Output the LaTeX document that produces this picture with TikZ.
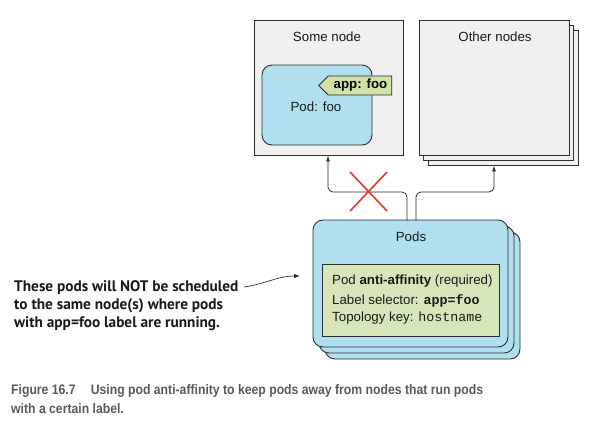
\documentclass[tikz,border=0pt]{standalone}
\usepackage{fontspec}
\setmainfont{Liberation Sans}
\setmonofont{Liberation Mono}
\newfontfamily\annfont{PT Sans}
\newfontfamily\capfont[FakeStretch=0.885]{Liberation Sans}
\usetikzlibrary{arrows.meta,shapes.symbols}
\definecolor{nodegray}{HTML}{F0F0F0}
\definecolor{podblue}{HTML}{B0DFF0}
\definecolor{taggreen}{HTML}{D0E2A8}
\definecolor{boxgreen}{HTML}{D6E6B8}
\definecolor{edgegray}{HTML}{2E2E2E}
\definecolor{xred}{HTML}{E8392C}
\definecolor{capgray}{HTML}{5A5A5A}
\tikzset{
  nodebox/.style={draw=edgegray, line width=0.9pt, fill=nodegray, inner sep=0pt},
  podbox/.style={draw=edgegray, line width=0.9pt, fill=podblue, rounded corners=10pt, inner sep=0pt},
  greenbox/.style={draw=edgegray, line width=0.9pt, fill=boxgreen, inner sep=0pt},
  tagbox/.style={signal, signal to=west, draw=edgegray, line width=0.9pt, fill=taggreen, inner sep=0pt, minimum height=19pt, minimum width=73pt, font=\fontsize{13.3}{15}\selectfont\bfseries},
  lbl/.style={inner sep=0pt, font=\fontsize{13.3}{15}\selectfont, text=black!90},
  conn/.style={draw=edgegray, line width=0.8pt, rounded corners=5pt, -{Latex[length=6pt,width=4pt]}},
  ann/.style={inner sep=0pt, font=\annfont\fontsize{15.3}{18}\selectfont\bfseries, text=black!90, align=left},
  captext/.style={inner sep=0pt, font=\capfont\fontsize{13.8}{19}\selectfont\bfseries, text=capgray, align=left},
}
\begin{document}
\begin{tikzpicture}[x=1pt,y=-1pt]
\useasboundingbox (0,0) rectangle (610,432);
% Some node
\node[nodebox, minimum width=149pt, minimum height=135pt] (some) at (328.5,87.5) {};
\node[lbl] (somelbl) at (327,37) {Some node};
\node[podbox, minimum width=110pt, minimum height=80pt] (podfoo) at (317,105) {};
\node[lbl] (podfoolbl) at (316,107) {Pod: foo};
\node[tagbox] (tag) at (360,85.5) {\hspace{1pt}app: foo};
% Other nodes (stack)
\node[nodebox, minimum width=150pt, minimum height=135pt] (oth3) at (503,97.5) {};
\node[nodebox, minimum width=150pt, minimum height=135pt] (oth2) at (498.5,92.5) {};
\node[nodebox, minimum width=150pt, minimum height=135pt] (oth) at (494,87.5) {};
\node[lbl] (othlbl) at (495,37) {Other nodes};
% Pods (stack)
\node[podbox, minimum width=195pt, minimum height=127pt] (pods3) at (422.5,295.5) {};
\node[podbox, minimum width=195pt, minimum height=127pt] (pods2) at (416.5,289.5) {};
\node[podbox, minimum width=195pt, minimum height=127pt] (pods) at (410.5,283.5) {};
\node[lbl] (podslbl) at (411,237) {Pods};
\node[greenbox, minimum width=177pt, minimum height=72pt] (aff) at (410.5,300) {};
\node[lbl, anchor=west] (l1) at (332,281) {Pod \textbf{anti-affinity} (required)};
\node[lbl, anchor=west] (l2) at (332,301) {Label selector: \texttt{\textbf{app=foo}}};
\node[lbl, anchor=west] (l3) at (332,318) {Topology key: \texttt{hostname}};
% connectors
\coordinate (s1) at (407,220.5);
\coordinate (s2) at (416,220.5);
\draw[conn] (s1) -- (407,192) -- (328,192) -- (some.south -| 328,0);
\draw[conn] (s2) -- (416,192) -- (494,192) -- (oth3.south -| 494,0);
% red X
\coordinate (xa) at (350,172);
\coordinate (xb) at (387,211);
\coordinate (xc) at (387,172);
\coordinate (xd) at (350,211);
\draw[xred, line width=1.6pt] (xa) -- (xb) (xc) -- (xd);
% annotation
\node[ann, anchor=west] (ann) at (14,305.5) {These pods will NOT be scheduled\\to the same node(s) where pods\\with app=foo label are running.};
\coordinate (annend) at (300,276);
\draw[edgegray, line width=0.7pt, -{Latex[length=6pt,width=4.5pt]}] (244,287) .. controls (265,284) and (278,276) .. (annend);
% caption
\node[captext, anchor=west] (caption) at (11,399.5) {Figure 16.7\hspace{1.1em}Using pod anti-affinity to keep pods away from nodes that run pods\\with a certain label.};
\end{tikzpicture}
\end{document}
